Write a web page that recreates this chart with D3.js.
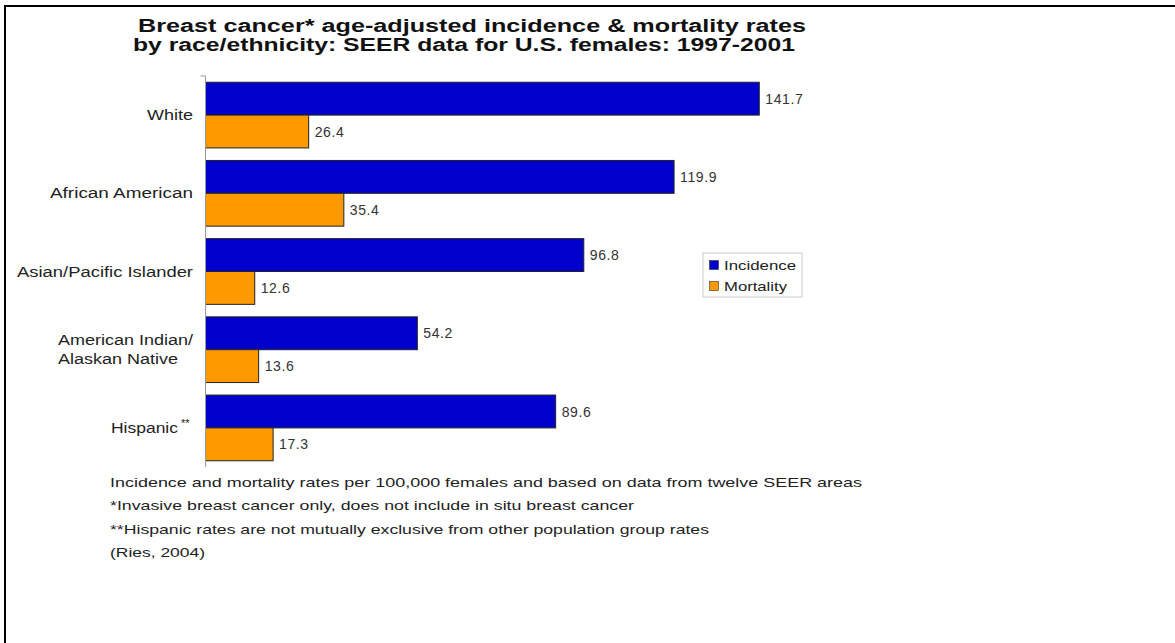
<!DOCTYPE html>
<html>
<head>
<meta charset="utf-8">
<script src="https://cdn.jsdelivr.net/npm/d3@7"></script>
<style>
  html, body { margin: 0; padding: 0; background: #fff; }
  svg { display: block; }
  text { font-family: "Liberation Sans", Arial, sans-serif; fill: #222; }
</style>
</head>
<body>
<svg id="chart" width="1175" height="643"></svg>
<script>
const categories = ["White", "African American", "Asian/Pacific Islander", "American Indian/\nAlaskan Native", "Hispanic"];
const categoryMarks = ["", "", "", "", "**"];
const seriesNames = ["Incidence", "Mortality"];
const incidence = [141.7, 119.9, 96.8, 54.2, 89.6];
const mortality = [26.4, 35.4, 12.6, 13.6, 17.3];
const colors = ["#0000CC", "#FF9900"];
const titleLines = ["Breast cancer* age-adjusted incidence & mortality rates", "by race/ethnicity: SEER data for U.S. females: 1997-2001"];
const footnotes = [
  "Incidence and mortality rates per 100,000 females and based on data from twelve SEER areas",
  "*Invasive breast cancer only, does not include in situ breast cancer",
  "**Hispanic rates are not mutually exclusive from other population group rates",
  "(Ries, 2004)"
];

const svg = d3.select("#chart");

// stretch a text element horizontally to a given width (reference text is widened)
function fit(sel, w) {
  sel.attr("textLength", w).attr("lengthAdjust", "spacingAndGlyphs");
  return sel;
}

// frame
svg.append("line").attr("x1", 4).attr("x2", 1175).attr("y1", 6).attr("y2", 6).attr("stroke", "#000").attr("stroke-width", 2);
svg.append("line").attr("x1", 5).attr("x2", 5).attr("y1", 5).attr("y2", 643).attr("stroke", "#000").attr("stroke-width", 2);

// title
const titleX = [138, 133], titleW = [668, 662];
titleLines.forEach((t, i) => {
  fit(svg.append("text").attr("x", titleX[i]).attr("y", 31.5 + i * 19)
    .attr("font-weight", "bold").attr("font-size", 18)
    .style("fill", "#111").text(t), titleW[i]);
});

const x = d3.scaleLinear().domain([0, 150]).range([205.5, 205.5 + 150 * 3.908]);
const y0 = d3.scaleBand().domain(d3.range(categories.length)).range([76, 467]).paddingInner(0.16).paddingOuter(0.08);
const y1 = d3.scaleBand().domain(seriesNames).range([0, y0.bandwidth()]);

const data = categories.map((c, i) => ({ i, values: [incidence[i], mortality[i]] }));

const g = svg.append("g");
const groups = g.selectAll("g.grp").data(data).join("g").attr("class", "grp")
  .attr("transform", d => `translate(0,${y0(d.i)})`);

groups.selectAll("rect").data(d => d.values.map((v, k) => ({ v, k }))).join("rect")
  .attr("x", x(0))
  .attr("y", d => y1(seriesNames[d.k]))
  .attr("width", d => x(d.v) - x(0))
  .attr("height", y1.bandwidth())
  .attr("fill", d => colors[d.k])
  .attr("stroke", "#222").attr("stroke-width", 1);

groups.selectAll("text.val").data(d => d.values.map((v, k) => ({ v, k }))).join("text").attr("class", "val")
  .attr("x", d => x(d.v) + 6)
  .attr("y", d => y1(seriesNames[d.k]) + y1.bandwidth() / 2)
  .attr("dy", "0.36em")
  .attr("font-size", 14).attr("letter-spacing", 0.6)
  .style("fill", "#333")
  .text(d => d.v.toFixed(1));

// axis
const yAxisScale = d3.scaleBand().domain(categories).range([76, 467]);
const axis = d3.axisLeft(yAxisScale).tickSize(0).tickFormat("");
const ax = svg.append("g").attr("transform", `translate(${x(0)},0)`).call(axis);
ax.select(".domain").attr("stroke", "#999").attr("d", `M-5,76H0V467`);

// category labels
const labelRight = 193;
const labelWidths = [[46], [143], [176], [135, 120], [67]];
categories.forEach((c, i) => {
  const lines = c.split("\n");
  const cy = y0(i) + y0.bandwidth() / 2;
  const blockLeft = labelRight - Math.max(...labelWidths[i]);
  const markW = categoryMarks[i] ? 15 : 0;
  lines.forEach((ln, j) => {
    const w = labelWidths[i][j];
    const lx = lines.length > 1 ? blockLeft : labelRight - markW - w;
    fit(svg.append("text").attr("x", lx)
      .attr("y", cy + (j - (lines.length - 1) / 2) * 18.5)
      .attr("dy", "0.36em").attr("font-size", 14).text(ln), w);
  });
  if (categoryMarks[i]) {
    svg.append("text").attr("x", labelRight - markW + 3).attr("y", cy - 1)
      .attr("font-size", 11).text(categoryMarks[i]);
  }
});

// legend
const lg = svg.append("g").attr("transform", "translate(703,253)");
lg.append("rect").attr("width", 99).attr("height", 44).attr("fill", "#fff").attr("stroke", "#ccc");
const legendW = [72, 63];
seriesNames.forEach((s, k) => {
  lg.append("rect").attr("x", 6.5).attr("y", 7.5 + k * 21).attr("width", 9).attr("height", 9)
    .attr("fill", colors[k]).attr("stroke", "#333").attr("stroke-width", 0.6);
  fit(lg.append("text").attr("x", 21).attr("y", 12 + k * 21).attr("dy", "0.36em")
    .attr("font-size", 13).text(s), legendW[k]);
});

// footnotes
const footW = [752, 524, 599, 95];
footnotes.forEach((f, i) => {
  fit(svg.append("text").attr("x", 110).attr("y", 486.5 + i * 23.5)
    .attr("font-size", 13.5).text(f), footW[i]);
});
</script>
</body>
</html>
